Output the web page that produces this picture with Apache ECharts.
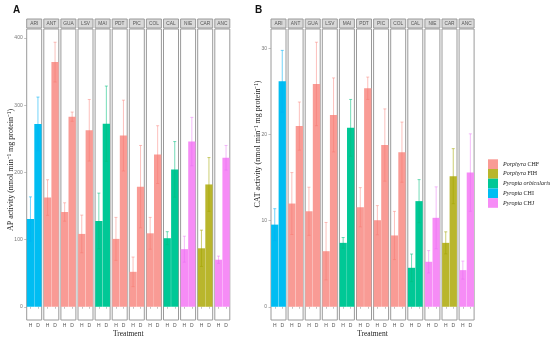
<!DOCTYPE html>
<html>
<head>
<meta charset="utf-8">
<script src="https://cdn.jsdelivr.net/npm/echarts@6/dist/echarts.min.js"></script>
<style>
html,body{margin:0;padding:0;background:#fff;}
#chart{width:550px;height:343px;}
</style>
</head>
<body>
<div id="chart"></div>
<script>
// ---------- data ----------
const sites = ['ARI','ANT','GUA','LSV','MAI','PDT','PIC','COL','CAL','NIE','CAR','ANC'];
const siteSpecies = ['Pyropia CHI','Porphyra CHF','Porphyra CHF','Porphyra CHF','Pyropia orbicularis','Porphyra CHF','Porphyra CHF','Porphyra CHF','Pyropia orbicularis','Pyropia CHJ','Porphyra FIH','Pyropia CHJ'];
const treatments = ['H','D'];
const speciesNames = ['Porphyra CHF','Porphyra FIH','Pyropia orbicularis','Pyropia CHI','Pyropia CHJ'];

// Panel A: AP activity
const apH   = [130.5, 162.5, 141, 108.4, 127.6, 101, 52, 109.3, 102, 85.7, 87, 70];
const apHsd = [33, 26.5, 13.7, 28, 41.5, 32, 22, 23.7, 9.7, 19.3, 27, 5.4];
const apD   = [272, 364, 282.8, 262.6, 272.4, 254.7, 178.7, 226.4, 204.4, 245.8, 182, 221.7];
const apDsd = [40, 29.6, 6.9, 45.8, 56, 52.7, 61.3, 43, 41.4, 36, 40, 18.3];
const apTicks = [0, 100, 200, 300, 400];

// Panel B: CAT activity
const catH   = [9.55, 12.0, 11.1, 6.46, 7.43, 11.57, 10.06, 8.29, 4.53, 5.23, 7.43, 4.26];
const catHsd = [1.85, 3.6, 2.8, 3.34, 0.62, 2.28, 1.7, 2.8, 1.6, 1.3, 1.28, 1.05];
const catD   = [26.2, 21.0, 25.9, 22.3, 20.8, 25.4, 18.8, 17.97, 12.28, 10.34, 15.18, 15.6];
const catDsd = [3.6, 2.8, 4.85, 4.3, 3.3, 1.3, 4.2, 3.5, 2.5, 3.6, 3.2, 4.5];
const catTicks = [0, 10, 20, 30];

// ---------- styles ----------
const fillColors = {
  'Porphyra CHF': '#F99B95',
  'Porphyra FIH': '#B9B62C',
  'Pyropia orbicularis': '#00C896',
  'Pyropia CHI': '#00BDF2',
  'Pyropia CHJ': '#F68CF6'
};
const errColors = {
  'Porphyra CHF': 'rgba(248,118,109,0.45)',
  'Porphyra FIH': 'rgba(163,165,0,0.55)',
  'Pyropia orbicularis': 'rgba(0,191,125,0.55)',
  'Pyropia CHI': 'rgba(0,176,246,0.55)',
  'Pyropia CHJ': 'rgba(231,107,243,0.45)'
};

const panels = [
  {letter:'A', left0: 26.7, H: apH, Hsd: apHsd, D: apD, Dsd: apDsd, ticks: apTicks,
   title: 'AP activity (nmol min\u207B\u00B9 mg protein\u207B\u00B9)', titleX: 11, titleY: 170, letterX: 16.5, xTitleX: 128.2},
  {letter:'B', left0: 271, H: catH, Hsd: catHsd, D: catD, Dsd: catDsd, ticks: catTicks,
   title: 'CAT activity (nmol min\u207B\u00B9 mg protein\u207B\u00B9)', titleX: 258, titleY: 144, letterX: 258.5, xTitleX: 372.5}
];
const facetStep = 17.1, facetW = 15, gridTop = 29, gridBottomY = 320;
const gridH = gridBottomY - gridTop;
const stripTop = 19, stripH = 9;

const grids = [], xAxes = [], yAxes = [], series = [], graphics = [];

panels.forEach((p, pi) => {
  let maxV = 0;
  for (let i = 0; i < sites.length; i++) {
    maxV = Math.max(maxV, p.H[i] + p.Hsd[i], p.D[i] + p.Dsd[i]);
  }
  const pad = maxV * 0.05;
  const yMin = -pad, yMax = maxV + pad;

  sites.forEach((site, i) => {
    const k = pi * sites.length + i;
    const left = p.left0 + i * facetStep;
    const sp = siteSpecies[i];
    grids.push({left: left, top: gridTop, width: facetW, height: gridH,
      show: true, borderColor: '#9a9a9a', borderWidth: 1, backgroundColor: '#fff',
      containLabel: false, outerBoundsMode: 'none'});
    xAxes.push({type: 'category', gridIndex: k, data: treatments,
      axisLine: {show: false},
      axisTick: {show: true, alignWithLabel: true, length: 2, lineStyle: {color: '#999', width: 0.6}},
      axisLabel: {fontSize: 5, color: '#555', margin: 3, fontFamily: 'Liberation Sans', interval: 0},
      splitLine: {show: false}});
    const first = i === 0;
    yAxes.push({type: 'value', gridIndex: k, min: yMin, max: yMax, show: first,
      axisLine: {show: false},
      splitLine: {show: false},
      axisTick: {show: first, length: 2.5, customValues: p.ticks, lineStyle: {color: '#999', width: 0.6}},
      axisLabel: {show: first, customValues: p.ticks, fontSize: 5, color: '#777', margin: 4, fontFamily: 'Liberation Sans'}});
    series.push({type: 'bar', name: sp, xAxisIndex: k, yAxisIndex: k,
      data: [p.H[i], p.D[i]], barCategoryGap: '3%',
      itemStyle: {color: fillColors[sp]}, silent: true, animation: false});
    series.push({type: 'custom', name: sp + ' err', xAxisIndex: k, yAxisIndex: k,
      data: [[0, p.H[i], p.Hsd[i]], [1, p.D[i], p.Dsd[i]]],
      z: 5, silent: true, animation: false,
      renderItem: function (params, api) {
        const x = api.value(0), m = api.value(1), s = api.value(2);
        const t = api.coord([x, m + s]);
        const b = api.coord([x, m - s]);
        const st = {stroke: errColors[sp], lineWidth: 1};
        return {type: 'group', children: [
          {type: 'line', shape: {x1: t[0], y1: t[1], x2: b[0], y2: b[1]}, style: st},
          {type: 'line', shape: {x1: t[0] - 1.5, y1: t[1], x2: t[0] + 1.5, y2: t[1]}, style: st},
          {type: 'line', shape: {x1: b[0] - 1.5, y1: b[1], x2: b[0] + 1.5, y2: b[1]}, style: st}
        ]};
      }});
    // facet strip
    graphics.push({type: 'rect', shape: {x: left, y: stripTop, width: facetW, height: stripH},
      style: {fill: '#d9d9d9', stroke: '#9a9a9a', lineWidth: 1}, silent: true});
    graphics.push({type: 'text', x: left + facetW / 2, y: stripTop + stripH / 2 + 0.3,
      style: {text: site, fontSize: 4.8, fill: '#555', align: 'center', verticalAlign: 'middle', fontFamily: 'Liberation Sans'}, silent: true});
  });

  // titles
  graphics.push({type: 'text', x: p.titleX, y: p.titleY, rotation: Math.PI / 2,
    style: {text: p.title, fontSize: 8, fill: '#222', align: 'center', verticalAlign: 'middle', fontFamily: 'Liberation Serif'}, silent: true});
  graphics.push({type: 'text', x: p.xTitleX, y: 334,
    style: {text: 'Treatment', fontSize: 7.5, fill: '#222', align: 'center', verticalAlign: 'middle', fontFamily: 'Liberation Serif'}, silent: true});
  graphics.push({type: 'text', x: p.letterX, y: 10.5,
    style: {text: p.letter, fontSize: 10, fontWeight: 'bold', fill: '#111', align: 'center', verticalAlign: 'middle', fontFamily: 'Liberation Sans'}, silent: true});
});

const chart = echarts.init(document.getElementById('chart'), null, {renderer: 'canvas'});
chart.setOption({
  animation: false,
  backgroundColor: '#fff',
  grid: grids,
  xAxis: xAxes,
  yAxis: yAxes,
  series: series,
  legend: {
    data: speciesNames,
    orient: 'vertical',
    left: 483, top: 154.3,
    itemWidth: 10, itemHeight: 9.7, itemGap: 0,
    icon: 'rect',
    selectedMode: false,
    textStyle: {fontSize: 6, color: '#222', fontFamily: 'Liberation Serif',
      rich: {i: {fontStyle: 'italic', fontSize: 6, fontFamily: 'Liberation Serif', color: '#222'}}},
    formatter: function (name) {
      if (name === 'Pyropia orbicularis') return '{i|Pyropia orbicularis}';
      const parts = name.split(' ');
      return '{i|' + parts[0] + '} ' + parts[1];
    }
  },
  graphic: graphics
});
</script>
</body>
</html>
